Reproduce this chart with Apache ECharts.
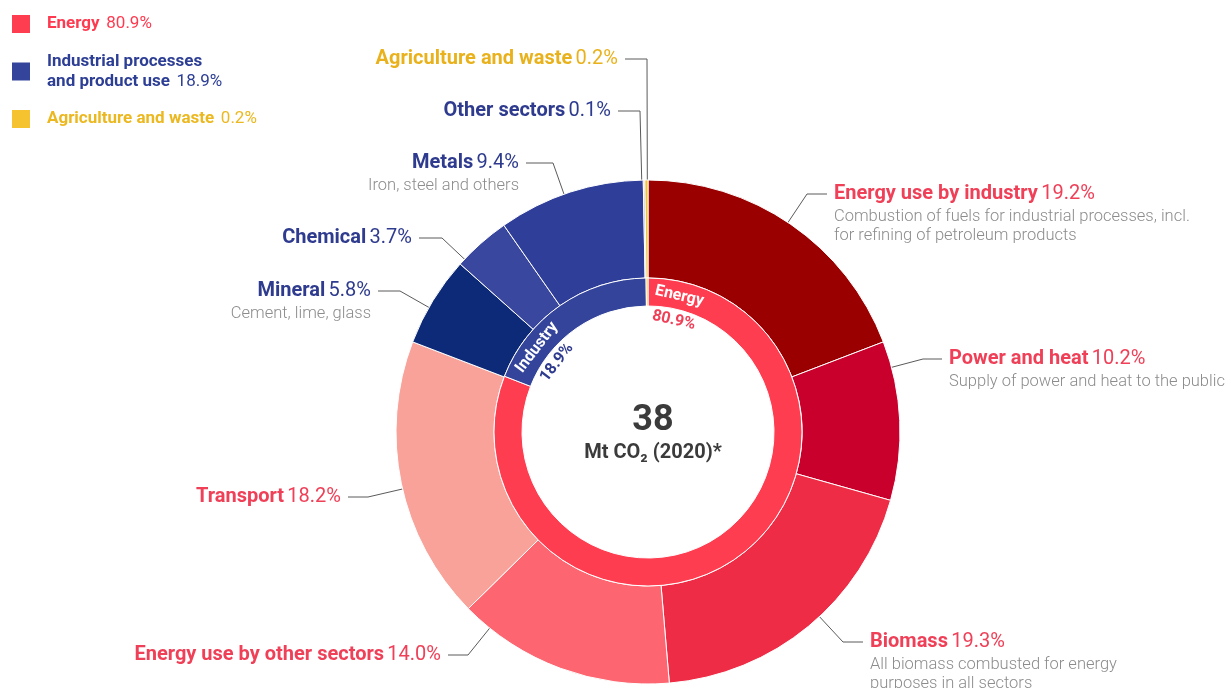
<!DOCTYPE html>
<html>
<head>
<meta charset="utf-8">
<script src="https://cdn.jsdelivr.net/npm/echarts@6/dist/echarts.min.js"></script>
<style>
html, body { margin: 0; padding: 0; background: #fff; }
#graph { width: 1231px; height: 688px; }
</style>
</head>
<body>
<div id="graph"></div>
<script>
// data
var groups = ['Energy', 'Industry', 'Agriculture and waste'];
var groupShares = [80.9, 18.9, 0.2];
var legendNames = ['Energy', 'Industrial processes\nand product use', 'Agriculture and waste'];

var sectors = ['Energy use by industry', 'Power and heat', 'Biomass', 'Energy use by other sectors',
  'Transport', 'Mineral', 'Chemical', 'Metals', 'Other sectors', 'Agriculture and waste'];
var sectorShares = [19.2, 10.2, 19.3, 14.0, 18.2, 5.8, 3.7, 9.4, 0.1, 0.2];
var sectorGroups = ['e', 'e', 'e', 'e', 'e', 'i', 'i', 'i', 'i', 'a'];
var sectorNotes = [
  'Combustion of fuels for industrial processes, incl.\nfor refining of petroleum products',
  'Supply of power and heat to the public',
  'All biomass combusted for energy\npurposes in all sectors',
  '', '', 'Cement, lime, glass', '', 'Iron, steel and others', '', ''
];
var totalValue = '38';
var totalUnit = 'Mt CO\u2082 (2020)*';

// styles / layout
var groupColors = ['#ff3d51', '#33449a', '#f6c330'];
var sectorColors = ['#9b0000', '#c8002b', '#ee2c45', '#fd6670', '#f8a29a',
  '#0d2a78', '#3a479e', '#2f3e99', '#8d97d0', '#f6c330'];
var textColor = { e: '#ef4058', i: '#2e3b8e', a: '#e9b21c' };
var cx = 648, cy = 432;

// elbow of each leader line, side of the text and length of the horizontal arm
var outerLabelPos = [
  { elbow: [807, 194], side: 1, arm: 20 },
  { elbow: [923, 359], side: 1, arm: 19 },
  { elbow: [843, 642], side: 1, arm: 20 },
  { elbow: [468, 655], side: -1, arm: 20 },
  { elbow: [368, 497], side: -1, arm: 20 },
  { elbow: [400, 291], side: -1, arm: 22 },
  { elbow: [442, 238], side: -1, arm: 23 },
  { elbow: [553, 163], side: -1, arm: 27 },
  { elbow: [640, 111], side: -1, arm: 22 },
  { elbow: [647, 59], side: -1, arm: 22, dotR: 152 }
];
var innerLabelAngles = [77, 142.7, null];

var chartDom = document.getElementById('graph');
var myChart = echarts.init(chartDom);
var option;

var font = 'Roboto, "Noto Sans", sans-serif';

function richFor(size) {
  var r = {};
  ['e', 'i', 'a'].forEach(function (g) {
    r[g + 'N'] = { color: textColor[g], fontWeight: 'bold', fontSize: size, lineHeight: 26, fontFamily: font };
    r[g + 'P'] = { color: textColor[g], fontWeight: 'normal', fontSize: size, lineHeight: 26, fontFamily: font };
  });
  return r;
}

var outerRich = richFor(20);
outerRich.d = { color: '#8c8c8c', fontSize: 16.5, fontWeight: 300, lineHeight: 19, fontFamily: font };

var legendRich = {
  eN: { color: '#ff3a50', fontWeight: 'bold', fontSize: 17, lineHeight: 20, fontFamily: font },
  eP: { color: '#ff3a50', fontSize: 17, lineHeight: 20, fontFamily: font },
  iN: { color: '#2d3e95', fontWeight: 'bold', fontSize: 17, lineHeight: 20, fontFamily: font },
  iP: { color: '#2d3e95', fontSize: 17, lineHeight: 20, fontFamily: font },
  aN: { color: '#ecb81f', fontWeight: 'bold', fontSize: 17, lineHeight: 20, fontFamily: font },
  aP: { color: '#ecb81f', fontSize: 17, lineHeight: 20, fontFamily: font }
};
var legendKeys = ['e', 'i', 'a'];

option = {
  backgroundColor: '#fff',
  title: {
    text: totalValue,
    subtext: totalUnit,
    left: cx,
    top: 398,
    textAlign: 'center',
    itemGap: 4,
    textStyle: { fontSize: 36, fontWeight: 'bold', color: '#3b3b3b', fontFamily: font },
    subtextStyle: { fontSize: 20, fontWeight: 'bold', color: '#3b3b3b', fontFamily: font }
  },
  legend: {
    orient: 'vertical',
    left: 10,
    top: 13,
    padding: 0,
    itemWidth: 20,
    itemHeight: 20,
    itemGap: 18,
    icon: 'rect',
    selectedMode: false,
    data: groups,
    textStyle: { padding: [0, 0, 0, 11], rich: legendRich },
    formatter: function (name) {
      var i = groups.indexOf(name);
      var k = legendKeys[i];
      var lines = legendNames[i].split('\n');
      var out = lines.map(function (l) { return '{' + k + 'N|' + l + '}'; });
      out[out.length - 1] += '  {' + k + 'P|' + groupShares[i].toFixed(1) + '%}';
      return out.join('\n');
    }
  },
  series: [
    {
      name: 'Sectors',
      type: 'pie',
      center: [cx, cy],
      radius: [154, 252],
      startAngle: 90,
      avoidLabelOverlap: false,
      animation: false,
      itemStyle: { borderColor: '#fff', borderWidth: 1 },
      label: {
        show: true,
        position: 'outside',
        rich: outerRich,
        formatter: function (p) {
          var i = p.dataIndex;
          var g = sectorGroups[i];
          var s = '{' + g + 'N|' + sectors[i] + '} {' + g + 'P|' + sectorShares[i].toFixed(1) + '%}';
          if (sectorNotes[i]) {
            s += '\n' + sectorNotes[i].split('\n').map(function (l) { return '{d|' + l + '}'; }).join('\n');
          }
          return s;
        }
      },
      labelLine: { show: true, length: 20, length2: 20, lineStyle: { color: '#5a5a5a', width: 1 } },
      labelLayout: function (p) {
        var pos = outerLabelPos[p.dataIndex];
        var ex = pos.elbow[0], ey = pos.elbow[1];
        var vx = ex - cx, vy = ey - cy;
        var len = Math.sqrt(vx * vx + vy * vy);
        var r = pos.dotR || 238;
        var dot = [cx + vx / len * r, cy + vy / len * r];
        var endX = ex + pos.side * pos.arm;
        return {
          x: endX + pos.side * 7,
          y: ey - 13,
          align: pos.side > 0 ? 'left' : 'right',
          verticalAlign: 'top',
          labelLinePoints: [dot, [ex, ey], [endX, ey]]
        };
      },
      data: sectors.map(function (n, i) {
        return { name: n, value: sectorShares[i], itemStyle: { color: sectorColors[i] } };
      })
    },
    {
      name: 'Groups',
      type: 'pie',
      center: [cx, cy],
      radius: [126, 154],
      startAngle: 90,
      avoidLabelOverlap: false,
      animation: false,
      itemStyle: { borderColor: '#fff', borderWidth: 1 },
      label: {
        show: true,
        position: 'inside',
        formatter: function (p) {
          var i = p.dataIndex;
          return '{w|' + groups[i] + '}\n{p' + i + '|' + groupShares[i].toFixed(1) + '%}';
        },
        rich: {
          w: { color: '#fff', fontWeight: 'bold', fontSize: 16, lineHeight: 25, fontFamily: font },
          p0: { color: '#ef4058', fontWeight: 'bold', fontSize: 16, lineHeight: 25, fontFamily: font },
          p1: { color: '#2e3b8e', fontWeight: 'bold', fontSize: 16, lineHeight: 25, fontFamily: font }
        }
      },
      labelLine: { show: false },
      labelLayout: function (p) {
        var deg = innerLabelAngles[p.dataIndex];
        if (deg == null) return {};
        var a = deg * Math.PI / 180;
        return {
          x: cx + 127 * Math.cos(a),
          y: cy - 127 * Math.sin(a),
          rotate: deg - 90,
          align: 'center',
          verticalAlign: 'middle'
        };
      },
      data: groups.map(function (n, i) {
        return {
          name: n,
          value: groupShares[i],
          itemStyle: { color: groupColors[i] },
          label: { show: innerLabelAngles[i] != null }
        };
      })
    }
  ]
};

option && myChart.setOption(option);
</script>
</body>
</html>
